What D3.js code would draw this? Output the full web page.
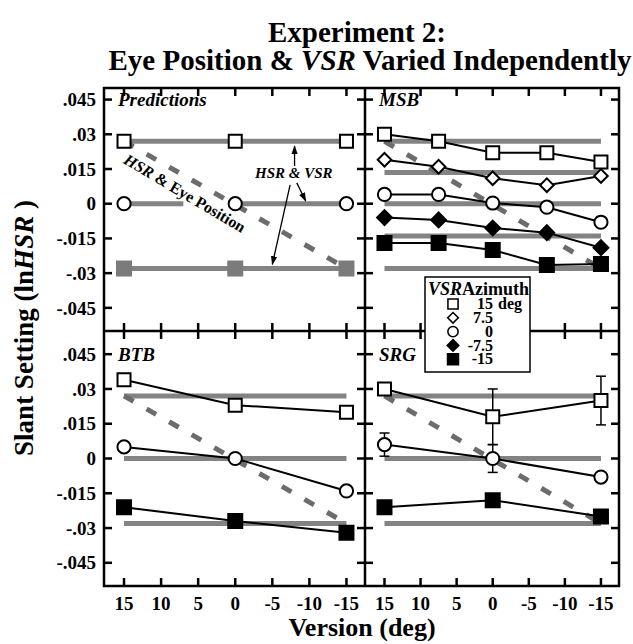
<!DOCTYPE html>
<html>
<head>
<meta charset="utf-8">
<script src="https://cdn.jsdelivr.net/npm/d3@7"></script>
<style>
  body { margin: 0; background: #fff; }
  svg { display: block; }
</style>
</head>
<body>
<svg id="chart" width="633" height="644" font-family="Liberation Serif" font-weight="bold"></svg>
<script>
// x = version (deg), y = slant setting (ln HSR)
const versions3 = [15, 0, -15]
const versions5 = [15, 7.5, 0, -7.5, -15]
const xTicks = [15, 10, 5, 0, -5, -10, -15]
const yTicks = [0.045, 0.03, 0.015, 0, -0.015, -0.03, -0.045]
const yTickLabels = [".045", ".03", ".015", "0", "-.015", "-.03", "-.045"]

// legend: VSR azimuth
const azimuths = [15, 7.5, 0, -7.5, -15]
const azLabels = ["15", "7.5", "0", "-7.5", "-15"]
const azSymbols = ["sqOpen", "diaOpen", "circOpen", "diaFill", "sqFill"]

// predictions (HSR & VSR horizontal, HSR & eye position diagonal)
const predFlat3 = [0.027, 0, -0.028]
const predFlat5 = [0.027, 0.0135, 0, -0.014, -0.028]
const predDiag = [0.027, -0.028]   // at version 15 and -15

// MSB, 5 azimuths x 5 versions
const msb15 = [0.030, 0.027, 0.022, 0.022, 0.018]
const msb7 = [0.019, 0.016, 0.011, 0.008, 0.012]
const msb0 = [0.004, 0.004, 0.0003, -0.0015, -0.008]
const msbN7 = [-0.006, -0.007, -0.0105, -0.0125, -0.019]
const msbN15 = [-0.017, -0.017, -0.020, -0.0265, -0.026]

// BTB
const btb15 = [0.034, 0.023, 0.020]
const btb0 = [0.005, 0, -0.014]
const btbN15 = [-0.021, -0.027, -0.032]

// SRG, with error bars
const srg15 = [0.030, 0.018, 0.025]
const srg0 = [0.006, 0, -0.008]
const srgN15 = [-0.021, -0.018, -0.025]
const srg15Err = [0, 0.012, 0.0105]
const srg0Err = [0.005, 0.006, 0]

const serif = "Liberation Serif, DejaVu Serif, serif"
const svg = d3.select("#chart")

const frameL = 104, frameR = 619, divX = 365
const frameT = 88, frameB = 586, divY = 331

const xL = d3.scaleLinear().domain([17.7, -17.5]).range([frameL, divX])
const xR = d3.scaleLinear().domain([17.7, -17.5]).range([divX, frameR])
const yT = d3.scaleLinear().domain([-0.055, 0.05]).range([divY, frameT])
const yB = d3.scaleLinear().domain([-0.055, 0.055]).range([frameB, divY])

const grayLine = "#838383"
const grayDash = "#6c6c6c"

// diamond symbol (square turned 45 deg)
const symbolDiamond45 = {
    draw(context, size) {
        const r = Math.sqrt(size / 2)
        context.moveTo(0, -r)
        context.lineTo(r, 0)
        context.lineTo(0, r)
        context.lineTo(-r, 0)
        context.closePath()
    }
}

function marker(g, type, cx, cy, scale) {
    const k = scale || 1
    let sym, fill = "white", stroke = "black"
    if (type === "sqOpen") sym = d3.symbol(d3.symbolSquare, 13 * 13 * k * k)
    if (type === "sqFill") { sym = d3.symbol(d3.symbolSquare, 14 * 14 * k * k); fill = "black" }
    if (type === "sqGray") { sym = d3.symbol(d3.symbolSquare, 16 * 16 * k * k); fill = "#7b7b7b"; stroke = "none" }
    if (type === "circOpen") sym = d3.symbol(d3.symbolCircle, Math.PI * 6.6 * 6.6 * k * k)
    if (type === "diaOpen") sym = d3.symbol(symbolDiamond45, 2 * 6.8 * 6.8 * k * k)
    if (type === "diaFill") { sym = d3.symbol(symbolDiamond45, 2 * 7.4 * 7.4 * k * k); fill = "black" }
    g.append("path")
        .attr("d", sym())
        .attr("transform", `translate(${cx},${cy})`)
        .attr("fill", fill)
        .attr("stroke", stroke)
        .attr("stroke-width", type === "sqGray" ? 0 : 2 * k)
}

const plot = svg.append("g")

function drawPredictions(x, y, flat, withDiag) {
    flat.forEach(v => {
        plot.append("line")
            .attr("x1", x(15)).attr("x2", x(-15))
            .attr("y1", y(v)).attr("y2", y(v))
            .attr("stroke", grayLine)
            .attr("stroke-width", 5)
    })
    if (withDiag) {
        plot.append("line")
            .attr("x1", x(15)).attr("y1", y(predDiag[0]))
            .attr("x2", x(-15)).attr("y2", y(predDiag[1]))
            .attr("stroke", grayDash)
            .attr("stroke-width", 5)
            .attr("stroke-dasharray", "11,15")
    }
}

function drawSeries(x, y, xs, vals, type, errs) {
    const line = d3.line().x((d, i) => x(xs[i])).y(d => y(d))
    plot.append("path")
        .attr("d", line(vals))
        .attr("fill", "none")
        .attr("stroke", "black")
        .attr("stroke-width", 2)
    if (errs) {
        vals.forEach((v, i) => {
            if (!errs[i]) return
            const cx = x(xs[i])
            const eg = plot.append("g").attr("stroke", "black").attr("stroke-width", 1.5)
            eg.append("line").attr("x1", cx).attr("x2", cx)
                .attr("y1", y(v - errs[i])).attr("y2", y(v + errs[i]))
            ;[v - errs[i], v + errs[i]].forEach(e => {
                eg.append("line").attr("x1", cx - 5).attr("x2", cx + 5)
                    .attr("y1", y(e)).attr("y2", y(e))
            })
        })
    }
    vals.forEach((v, i) => marker(plot, type, x(xs[i]), y(v)))
}

// ---- Predictions panel ----
// 0 line is broken where the diagonal label runs through it
plot.append("line")
    .attr("x1", xL(15)).attr("x2", xL(7)).attr("y1", yT(0)).attr("y2", yT(0))
    .attr("stroke", grayLine).attr("stroke-width", 5)
plot.append("line")
    .attr("x1", xL(0)).attr("x2", xL(-15)).attr("y1", yT(0)).attr("y2", yT(0))
    .attr("stroke", grayLine).attr("stroke-width", 5)
drawPredictions(xL, yT, [predFlat3[0], predFlat3[2]], true)
versions3.forEach(v => {
    marker(plot, "sqOpen", xL(v), yT(predFlat3[0]))
    marker(plot, "circOpen", xL(v), yT(predFlat3[1]))
    marker(plot, "sqGray", xL(v), yT(predFlat3[2]))
})

// ---- MSB panel ----
drawPredictions(xR, yT, predFlat5, true)
drawSeries(xR, yT, versions5, msb15, "sqOpen")
drawSeries(xR, yT, versions5, msb7, "diaOpen")
drawSeries(xR, yT, versions5, msb0, "circOpen")
drawSeries(xR, yT, versions5, msbN7, "diaFill")
drawSeries(xR, yT, versions5, msbN15, "sqFill")

// ---- BTB panel ----
drawPredictions(xL, yB, predFlat3, true)
drawSeries(xL, yB, versions3, btb15, "sqOpen")
drawSeries(xL, yB, versions3, btb0, "circOpen")
drawSeries(xL, yB, versions3, btbN15, "sqFill")

// ---- SRG panel ----
drawPredictions(xR, yB, predFlat3, true)
drawSeries(xR, yB, versions3, srg15, "sqOpen", srg15Err)
drawSeries(xR, yB, versions3, srg0, "circOpen", srg0Err)
drawSeries(xR, yB, versions3, srgN15, "sqFill")

// ---- frame, dividers and ticks ----
const frame = svg.append("g").attr("stroke", "black").attr("stroke-width", 2.5).attr("fill", "none")
frame.append("rect").attr("x", frameL).attr("y", frameT)
    .attr("width", frameR - frameL).attr("height", frameB - frameT)
frame.append("line").attr("x1", divX).attr("x2", divX).attr("y1", frameT).attr("y2", frameB)
frame.append("line").attr("x1", frameL).attr("x2", frameR).attr("y1", divY).attr("y2", divY)

const tk = 8
const tickG = svg.append("g").attr("stroke", "black").attr("stroke-width", 2.5)
;[yT, yB].forEach(y => {
    yTicks.forEach(t => {
        tickG.append("line").attr("x1", frameL).attr("x2", frameL + tk).attr("y1", y(t)).attr("y2", y(t))
        tickG.append("line").attr("x1", divX - tk).attr("x2", divX + tk).attr("y1", y(t)).attr("y2", y(t))
        tickG.append("line").attr("x1", frameR - tk).attr("x2", frameR).attr("y1", y(t)).attr("y2", y(t))
    })
})
;[xL, xR].forEach(x => {
    xTicks.forEach(t => {
        tickG.append("line").attr("x1", x(t)).attr("x2", x(t)).attr("y1", frameT).attr("y2", frameT + tk)
        tickG.append("line").attr("x1", x(t)).attr("x2", x(t)).attr("y1", divY - tk).attr("y2", divY + tk)
        tickG.append("line").attr("x1", x(t)).attr("x2", x(t)).attr("y1", frameB - tk).attr("y2", frameB)
    })
})

// tick labels
const labG = svg.append("g").attr("font-size", "19px")
;[yT, yB].forEach(y => {
    yTicks.forEach((t, i) => {
        labG.append("text")
            .attr("x", frameL - 8).attr("y", y(t))
            .attr("dy", "0.35em")
            .attr("text-anchor", "end")
            .text(yTickLabels[i])
    })
})
;[xL, xR].forEach(x => {
    xTicks.forEach(t => {
        labG.append("text")
            .attr("x", x(t)).attr("y", frameB + 17)
            .attr("dy", "0.35em")
            .attr("text-anchor", "middle")
            .text(t)
    })
})

// panel names
const panelNames = [
    {name: "Predictions", x: xL, y: yT},
    {name: "MSB", x: xR, y: yT},
    {name: "BTB", x: xL, y: yB},
    {name: "SRG", x: xR, y: yB},
]
svg.append("g").selectAll("text")
    .data(panelNames)
    .enter()
    .append("text")
    .attr("x", d => d.x.range()[0] + 14)
    .attr("y", d => d.y(0.045))
    .attr("dy", "0.35em")
    .attr("font-size", "19px")
    .attr("font-style", "italic")
    .text(d => d.name)

// ---- annotations in Predictions panel ----
const defs = svg.append("defs")
defs.append("marker")
    .attr("id", "arrow")
    .attr("viewBox", "0 0 10 10")
    .attr("refX", 9).attr("refY", 5)
    .attr("markerWidth", 7).attr("markerHeight", 7)
    .attr("orient", "auto")
    .append("path")
    .attr("d", "M0,1.5 L10,5 L0,8.5 Z")
    .attr("fill", "black")

const arrows = [
    {from: [-8.0, 0.0163], to: [-8.0, 0.0249]},
    {from: [-8.3, 0.0090], to: [-9.5, 0.0012]},
    {from: [-7.4, 0.0081], to: [-5.0, -0.0262]},
]
arrows.forEach(a => {
    svg.append("line")
        .attr("x1", xL(a.from[0])).attr("y1", yT(a.from[1]))
        .attr("x2", xL(a.to[0])).attr("y2", yT(a.to[1]))
        .attr("stroke", "black")
        .attr("stroke-width", 1.3)
        .attr("marker-end", "url(#arrow)")
})

svg.append("text")
    .attr("x", xL(-7.9)).attr("y", yT(0.0135))
    .attr("dy", "0.35em")
    .attr("text-anchor", "middle")
    .attr("font-size", "15px")
    .attr("font-style", "italic")
    .text("HSR & VSR")

const diagAngle = Math.atan2(yT(predDiag[1]) - yT(predDiag[0]), xL(-15) - xL(15)) * 180 / Math.PI
const he = svg.append("text")
    .attr("transform", `translate(${xL(6.8)},${yT(0.0046)}) rotate(${diagAngle + 0.8})`)
    .attr("dy", "0.35em")
    .attr("text-anchor", "middle")
    .attr("font-size", "16px")
he.append("tspan").attr("font-style", "italic").text("HSR")
he.append("tspan").text(" & Eye Position")

// ---- legend ----
const leg = svg.append("g").attr("transform", "translate(425,277)")
leg.append("rect")
    .attr("width", 105).attr("height", 95)
    .attr("fill", "white")
    .attr("stroke", "black")
    .attr("stroke-width", 1.5)
const lt = leg.append("text").attr("x", 3).attr("y", 18).attr("font-size", "18px")
lt.append("tspan").attr("font-style", "italic").text("VSR")
lt.append("tspan").text("Azimuth")
azimuths.forEach((a, i) => {
    const cy = 27 + i * 13.8
    marker(leg, azSymbols[i], 28, cy, 0.78)
    leg.append("text")
        .attr("x", 68).attr("y", cy)
        .attr("dy", "0.33em")
        .attr("text-anchor", "end")
        .attr("font-size", "16px")
        .text(azLabels[i])
})
leg.append("text").attr("x", 73).attr("y", 27).attr("dy", "0.33em")
    .attr("font-size", "16px").text("deg")

// ---- titles ----
svg.append("text")
    .attr("x", 357).attr("y", 42)
    .attr("text-anchor", "middle")
    .attr("font-size", "29px")
    .text("Experiment 2:")
const t2 = svg.append("text")
    .attr("x", 370).attr("y", 70)
    .attr("text-anchor", "middle")
    .attr("font-size", "29px")
t2.append("tspan").text("Eye Position & ")
t2.append("tspan").attr("font-style", "italic").text("VSR")
t2.append("tspan").text(" Varied Independently")

svg.append("text")
    .attr("x", 362).attr("y", 636)
    .attr("text-anchor", "middle")
    .attr("font-size", "26px")
    .text("Version (deg)")

const yl = svg.append("text")
    .attr("transform", "translate(33,328) rotate(-90)")
    .attr("text-anchor", "middle")
    .attr("font-size", "27px")
yl.append("tspan").text("Slant Setting (ln")
yl.append("tspan").attr("font-style", "italic").text("HSR")
yl.append("tspan").text(" )")

// every text gets the serif face and bold weight directly
svg.selectAll("text, tspan")
    .attr("font-family", serif)
    .attr("font-weight", "bold")
</script>
</body>
</html>
